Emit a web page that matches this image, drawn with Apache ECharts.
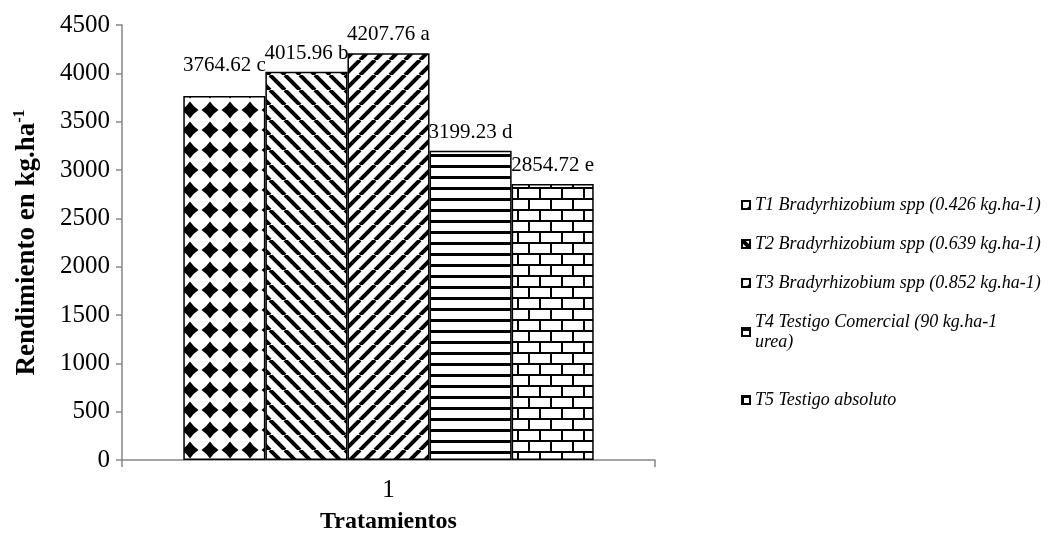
<!DOCTYPE html>
<html>
<head>
<meta charset="utf-8">
<script src="https://cdn.jsdelivr.net/npm/echarts@6/dist/echarts.min.js"></script>
<style>
  html, body { margin: 0; padding: 0; background: #fff; }
  #chart { width: 1052px; height: 538px; }
</style>
</head>
<body>
<div id="chart"></div>
<script>
// datos de la figura
var categorias = ['1'];
var tratamientos = [
  'T1 Bradyrhizobium spp (0.426 kg.ha-1)',
  'T2 Bradyrhizobium spp (0.639 kg.ha-1)',
  'T3 Bradyrhizobium spp (0.852 kg.ha-1)',
  'T4 Testigo Comercial (90 kg.ha-1 urea)',
  'T5 Testigo absoluto'
];
var rendimiento = [3764.62, 4015.96, 4207.76, 3199.23, 2854.72];
var letras = ['c', 'b', 'a', 'd', 'e'];
var yTicks = { min: 0, max: 4500, interval: 500 };

var FONT = 'Liberation Serif';

// tramas en blanco y negro (como en Excel)
function tile(w, h, draw) {
  var c = document.createElement('canvas');
  c.width = w; c.height = h;
  var ctx = c.getContext('2d');
  ctx.fillStyle = '#fff';
  ctx.fillRect(0, 0, w, h);
  ctx.fillStyle = '#000';
  ctx.strokeStyle = '#000';
  draw(ctx, w, h);
  return c;
}

var diamantes = tile(20, 20, function (ctx) {
  var cx = 10, cy = 10, r = 8.5, k = 3.4;
  ctx.beginPath();
  ctx.moveTo(cx, cy - r);
  ctx.quadraticCurveTo(cx + k, cy - k, cx + r, cy);
  ctx.quadraticCurveTo(cx + k, cy + k, cx, cy + r);
  ctx.quadraticCurveTo(cx - k, cy + k, cx - r, cy);
  ctx.quadraticCurveTo(cx - k, cy - k, cx, cy - r);
  ctx.fill();
});

function rayas(dir) {
  return tile(15, 15, function (ctx, w) {
    ctx.lineWidth = 4;
    for (var x0 = -w; x0 <= w; x0 += w) {
      ctx.beginPath();
      if (dir > 0) { ctx.moveTo(x0, 0); ctx.lineTo(x0 + w, w); }
      else { ctx.moveTo(x0, w); ctx.lineTo(x0 + w, 0); }
      ctx.stroke();
    }
  });
}

var horizontales = tile(10, 11, function (ctx) {
  ctx.fillRect(0, 0, 10, 3);
});

var ladrillos = tile(22, 22, function (ctx) {
  ctx.fillRect(0, 0, 22, 2);
  ctx.fillRect(0, 11, 22, 2);
  ctx.fillRect(0, 0, 2, 11);
  ctx.fillRect(11, 11, 2, 11);
});

var tramas = [diamantes, rayas(1), rayas(-1), horizontales, ladrillos];

var chart = echarts.init(document.getElementById('chart'));

var series = tratamientos.map(function (nombre, i) {
  return {
    name: nombre,
    type: 'bar',
    data: [rendimiento[i]],
    barGap: '0%',
    barCategoryGap: '23%',
    itemStyle: {
      color: { image: tramas[i], repeat: 'repeat' },
      borderColor: '#000',
      borderWidth: 1.5
    },
    label: {
      show: true,
      position: 'top',
      distance: i === 0 ? 20 : 8,
      fontFamily: FONT,
      fontSize: 21,
      color: '#000',
      formatter: function () {
        return rendimiento[i].toFixed(2) + ' ' + letras[i];
      }
    }
  };
});

function leyenda(nombres, top) {
  return {
    orient: 'vertical',
    left: 741,
    top: top,
    padding: 0,
    itemWidth: 8,
    itemHeight: 8,
    itemGap: 19,
    icon: 'rect',
    selectedMode: false,
    data: nombres,
    formatter: function (n) { return n.replace(' urea)', '\nurea)'); },
    textStyle: {
      fontFamily: FONT,
      fontStyle: 'italic',
      fontSize: 18,
      lineHeight: 20,
      color: '#000'
    }
  };
}

var option = {
  backgroundColor: '#fff',
  animation: false,
  textStyle: { fontFamily: FONT },
  grid: { left: 122, right: 397, top: 25, bottom: 78, outerBoundsMode: 'none', containLabel: false },
  legend: [
    leyenda(tratamientos.slice(0, 3), 195),
    leyenda([tratamientos[3]], 312),
    leyenda([tratamientos[4]], 390)
  ],
  xAxis: {
    type: 'category',
    data: categorias,
    name: 'Tratamientos',
    nameLocation: 'middle',
    nameGap: 50,
    nameTextStyle: { fontFamily: FONT, fontSize: 24, fontWeight: 'bold', color: '#000' },
    axisLine: { lineStyle: { color: '#868686', width: 1.5 } },
    axisTick: { show: true, length: 7, lineStyle: { color: '#868686', width: 1.5 } },
    axisLabel: { fontFamily: FONT, fontSize: 25, color: '#000', margin: 18 }
  },
  yAxis: {
    type: 'value',
    min: yTicks.min,
    max: yTicks.max,
    interval: yTicks.interval,
    name: 'Rendimiento en kg.ha{s|-1}',
    nameLocation: 'middle',
    nameGap: 80,
    nameTextStyle: {
      fontFamily: FONT, fontSize: 27, fontWeight: 'bold', color: '#000',
      rich: {
        s: { fontFamily: FONT, fontSize: 16, fontWeight: 'bold', color: '#000', padding: [0, 0, 14, 0] }
      }
    },
    splitLine: { show: false },
    axisLine: { show: true, lineStyle: { color: '#868686', width: 1.5 } },
    axisTick: { show: true, length: 6, lineStyle: { color: '#868686', width: 1.5 } },
    axisLabel: {
      fontFamily: FONT, fontSize: 25, color: '#000', margin: 12,
      formatter: function (v) { return String(v); }
    }
  },
  series: series
};

chart.setOption(option);
</script>
</body>
</html>
